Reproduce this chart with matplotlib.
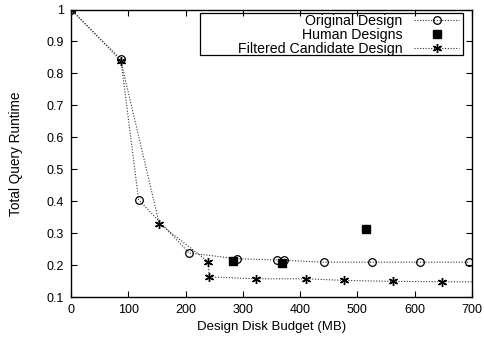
import matplotlib
matplotlib.use("Agg")
import matplotlib.pyplot as plt
from matplotlib.patches import Rectangle

plt.rcParams['font.family'] = ['Liberation Sans', 'DejaVu Sans']

orig_x = [0, 87, 118, 206, 289, 359, 372, 441, 526, 610, 695]
orig_y = [1.0, 0.845, 0.405, 0.238, 0.220, 0.216, 0.215, 0.209, 0.209, 0.209, 0.209]

human_x = [283, 368, 515]
human_y = [0.213, 0.207, 0.313]

filt_x = [0, 87, 154, 240, 241, 323, 411, 477, 562, 647, 720]
filt_y = [1.0, 0.84, 0.33, 0.21, 0.163, 0.157, 0.157, 0.152, 0.149, 0.148, 0.147]

xticks = [0, 100, 200, 300, 400, 500, 600, 700]
yticks = [0.1, 0.2, 0.3, 0.4, 0.5, 0.6, 0.7, 0.8, 0.9, 1.0]
ytick_labels = ['0.1', '0.2', '0.3', '0.4', '0.5', '0.6', '0.7', '0.8', '0.9', '1']

fig = plt.figure(figsize=(4.84, 3.41), dpi=100)
ax = fig.add_axes([0.1467, 0.129, 0.8283, 0.843])

ax.plot(orig_x, orig_y, linestyle=(0, (1, 1.5)), color='#333333', linewidth=0.8,
        marker='o', markersize=5.5, markerfacecolor='none', markeredgecolor='black',
        markeredgewidth=0.9, label='Original Design')
ax.plot(human_x, human_y, linestyle='none', marker='s', markersize=6,
        color='black', label='Human Designs')
ax.plot(filt_x, filt_y, linestyle=(0, (1, 1.5)), color='#333333', linewidth=0.8,
        marker=(6, 2, 0), markersize=6.5, markeredgecolor='black', markeredgewidth=1.0,
        label='Filtered Candidate Design')

ax.set_xlim(0, 700)
ax.set_ylim(0.1, 1.0)
ax.set_xticks(xticks)
ax.set_yticks(yticks)
ax.set_yticklabels(ytick_labels)
ax.tick_params(direction='in', top=True, right=True, labelsize=9, length=4, width=0.8)
ax.tick_params(axis='y', pad=5)
ax.tick_params(axis='x', pad=5)
for s in ax.spines.values():
    s.set_linewidth(1.0)

ax.set_xlabel('Design Disk Budget (MB)', fontsize=9.5, va='center')
ax.xaxis.set_label_coords(0.5, -0.104)
ax.set_ylabel('Total Query Runtime', fontsize=9.8, va='center')
ax.yaxis.set_label_coords(-0.137, 0.5)

leg = ax.legend(loc='upper right', bbox_to_anchor=(0.9776, 0.996), markerfirst=False, fontsize=10.2,
                frameon=False, borderpad=0.25,
                labelspacing=0.0, handlelength=3.2, handletextpad=0.8, borderaxespad=0.0)
for t in leg.get_texts():
    t.set_ha('right')
leg._legend_box.align = 'right'

ax.add_patch(Rectangle((0.3217, 0.8417), 0.9776 - 0.3217, 0.9878 - 0.8417,
                       transform=ax.transAxes, fill=False, edgecolor='black',
                       linewidth=0.9, zorder=5))

fig.savefig('out.png', dpi=100)
